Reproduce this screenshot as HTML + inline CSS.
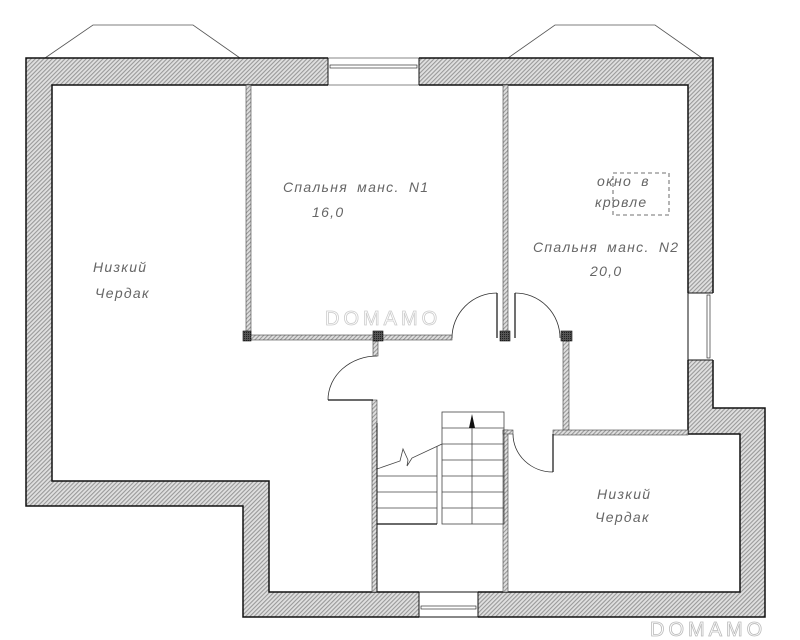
<!DOCTYPE html>
<html><head><meta charset="utf-8"><style>body{margin:0;background:#fff}svg{display:block}
text{font-family:"Liberation Sans",sans-serif;font-style:italic;fill:#666;font-size:14px;letter-spacing:1.3px;word-spacing:4px}</style></head>
<body>
<svg width="800" height="640" viewBox="0 0 800 640" xmlns="http://www.w3.org/2000/svg">
<defs>
<pattern id="h" width="3" height="3" patternUnits="userSpaceOnUse" patternTransform="rotate(45)">
<rect width="3" height="3" fill="#e0e0e0"/><rect width="1.1" height="3" fill="#999"/></pattern>
<pattern id="d" width="2" height="2" patternUnits="userSpaceOnUse"><rect width="2" height="2" fill="#555"/><rect width="1" height="1" fill="#222"/></pattern>
</defs>
<polyline points="45,58 93,25 193,25 240,58" fill="none" stroke="#555" stroke-width="0.8"/>
<polyline points="508,58 555,25 655,25 702,58" fill="none" stroke="#555" stroke-width="0.8"/>
<path fill-rule="evenodd" fill="url(#h)" stroke="#111" stroke-width="1.5" d="M26,58 L713,58 L713,408 L765,408 L765,617 L243,617 L243,506 L26,506 Z M52,85 L688,85 L688,434 L740,434 L740,592 L269,592 L269,481 L52,481 Z"/>
<g stroke="#111" stroke-width="1">
<rect x="328" y="57" width="91" height="29" fill="#fff" stroke="none"/>
<line x1="328" y1="58" x2="328" y2="85"/><line x1="419" y1="58" x2="419" y2="85"/>
<line x1="328" y1="58" x2="419" y2="58" stroke-width="0.6"/><line x1="328" y1="85" x2="419" y2="85" stroke-width="0.6"/>
<rect x="330" y="65" width="87" height="3" fill="none" stroke-width="0.6"/>
<rect x="687" y="293" width="27" height="67" fill="#fff" stroke="none"/>
<line x1="688" y1="293" x2="713" y2="293"/><line x1="688" y1="360" x2="713" y2="360"/><line x1="688" y1="293" x2="688" y2="360"/>
<rect x="707" y="295" width="3" height="63" fill="none" stroke-width="0.6"/>
<rect x="419" y="591" width="59" height="27" fill="#fff" stroke="none"/>
<line x1="419" y1="592" x2="419" y2="617"/><line x1="478" y1="592" x2="478" y2="617"/><line x1="419" y1="592" x2="478" y2="592"/><line x1="419" y1="617" x2="478" y2="617"/>
<rect x="421" y="606" width="55" height="3" fill="none" stroke-width="0.6"/>
</g>
<g fill="url(#h)" stroke="#444" stroke-width="0.6">
<rect x="246" y="85" width="5" height="250"/>
<rect x="503" y="85" width="5" height="250"/>
<rect x="250" y="335" width="202" height="5"/>
<rect x="563" y="341" width="6" height="91"/>
<rect x="553" y="430" width="135" height="5"/>
<rect x="373" y="341" width="5" height="15"/>
<rect x="372" y="400" width="5" height="192"/>
<rect x="503" y="430" width="5" height="162"/>
<rect x="503" y="430" width="10" height="4"/>
</g>
<g fill="url(#d)" stroke="#111" stroke-width="0.6">
<rect x="243" y="331" width="8" height="10"/>
<rect x="373" y="331" width="10" height="10"/>
<rect x="500" y="331" width="10" height="10"/>
<rect x="561" y="331" width="11" height="10"/>
</g>
<g fill="none" stroke="#333" stroke-width="0.8">
<path d="M452,338 A45,45 0 0 1 497,293"/><line x1="497" y1="293" x2="497" y2="338" stroke="#111" stroke-width="1.2"/>
<path d="M515,293 A45,45 0 0 1 560,338"/><line x1="515" y1="293" x2="515" y2="338" stroke="#111" stroke-width="1.2"/>
<path d="M377,356 A49,44 0 0 0 328,400"/><line x1="328" y1="400" x2="373" y2="400" stroke="#111" stroke-width="1.2"/>
<path d="M513,434 A40,38 0 0 0 553,472"/><line x1="553" y1="434" x2="553" y2="472" stroke="#111" stroke-width="1.2"/>
</g>
<g fill="none" stroke="#444" stroke-width="0.8">
<rect x="442" y="412" width="62" height="112"/>
<line x1="472" y1="428" x2="472" y2="524"/>
<line x1="442" y1="428" x2="504" y2="428"/><line x1="442" y1="444" x2="504" y2="444"/><line x1="442" y1="460" x2="504" y2="460"/>
<line x1="442" y1="476" x2="504" y2="476"/><line x1="442" y1="492" x2="504" y2="492"/><line x1="442" y1="508" x2="504" y2="508"/>
<line x1="377" y1="476" x2="437" y2="476"/><line x1="377" y1="492" x2="437" y2="492"/><line x1="377" y1="508" x2="437" y2="508"/>
<line x1="437" y1="446" x2="437" y2="524"/>
<polyline points="377,469 400,461 403,449 408,460 407,466 412,458 442,444"/>
<line x1="377" y1="524" x2="437" y2="524" stroke="#111" stroke-width="1.2"/>
<line x1="377" y1="423" x2="377" y2="592" stroke="#111" stroke-width="1"/>
</g>
<polygon points="472,414 469,428 475,428" fill="#111"/>
<rect x="613" y="173" width="56" height="42" fill="none" stroke="#444" stroke-width="0.8" stroke-dasharray="4,3"/>
<text x="93" y="272">Низкий</text>
<text x="95" y="298">Чердак</text>
<text x="283" y="192">Спальня манс. N1</text>
<text x="312" y="217">16,0</text>
<text x="597" y="186">окно в</text>
<text x="595" y="207">кровле</text>
<text x="533" y="252">Спальня манс. N2</text>
<text x="590" y="276">20,0</text>
<text x="597" y="499">Низкий</text>
<text x="595" y="522">Чердак</text>
<text x="325" y="325" style="font-style:normal;font-size:20px;fill:#fff;stroke:#ccc;stroke-width:0.8;letter-spacing:4px;word-spacing:0">DOMAMO</text>
<text x="650" y="636" style="font-style:normal;font-size:20px;fill:#fff;stroke:#bbb;stroke-width:0.8;letter-spacing:4px;word-spacing:0">DOMAMO</text>
</svg>
</body></html>
